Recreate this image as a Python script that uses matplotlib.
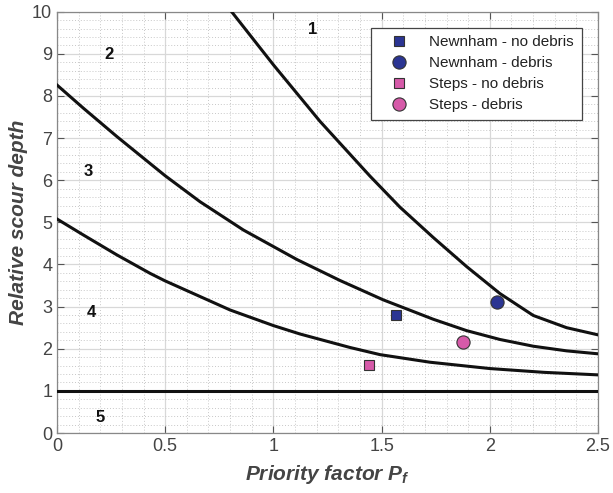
import matplotlib
matplotlib.use("Agg")
import matplotlib.pyplot as plt
from matplotlib.ticker import MultipleLocator, FuncFormatter

plt.rcParams["font.family"] = ["Liberation Sans", "DejaVu Sans"]
plt.rcParams["mathtext.fontset"] = "custom"
plt.rcParams["mathtext.it"] = "Liberation Sans:italic:bold"
plt.rcParams["mathtext.rm"] = "Liberation Sans:bold"

# boundary curves
curve1_x = [0.807, 1.0, 1.215, 1.446, 1.585, 1.739, 1.893, 2.047, 2.201, 2.355, 2.5]
curve1_y = [10.0, 8.74, 7.40, 6.10, 5.36, 4.64, 3.95, 3.31, 2.79, 2.50, 2.33]

curve2_x = [0.0, 0.122, 0.276, 0.499, 0.661, 0.861, 1.108, 1.308, 1.508, 1.739, 1.893, 2.047, 2.201, 2.355, 2.5]
curve2_y = [8.26, 7.71, 7.04, 6.11, 5.49, 4.82, 4.12, 3.62, 3.16, 2.70, 2.43, 2.22, 2.06, 1.95, 1.88]

curve3_x = [0.0, 0.122, 0.276, 0.43, 0.5, 0.8, 1.0, 1.123, 1.354, 1.493, 1.724, 2.0, 2.25, 2.5]
curve3_y = [5.08, 4.70, 4.23, 3.79, 3.61, 2.92, 2.55, 2.35, 2.03, 1.86, 1.68, 1.53, 1.44, 1.38]

limit_x = [0.0, 2.5]
limit_y = [1.0, 1.0]

# observations
series_names = ["Newnham - no debris", "Newnham - debris", "Steps - no debris", "Steps - debris"]
series_x = [1.565, 2.032, 1.442, 1.875]
series_y = [2.80, 3.12, 1.62, 2.15]
series_marker = ["s", "o", "s", "o"]
series_color = ["#2b3593", "#2b3593", "#d65aa9", "#d65aa9"]
series_size = [7, 9.5, 7, 9.5]

zone_labels = ["1", "2", "3", "4", "5"]
zone_x = [1.183, 0.24, 0.143, 0.16, 0.2]
zone_y = [9.57, 8.98, 6.2, 2.85, 0.36]

fig = plt.figure(figsize=(6.13, 4.93), dpi=100)
ax = fig.add_axes([0.093, 0.1217, 0.8825, 0.8545])

for cx, cy in [(curve1_x, curve1_y), (curve2_x, curve2_y), (curve3_x, curve3_y), (limit_x, limit_y)]:
    ax.plot(cx, cy, color="#111111", lw=2.2, solid_joinstyle="round", zorder=3)

for name, x, y, m, c, s in zip(series_names, series_x, series_y, series_marker, series_color, series_size):
    ax.plot([x], [y], linestyle="none", marker=m, markersize=s, markerfacecolor=c,
            markeredgecolor="#333333", markeredgewidth=0.8, label=name, zorder=4)

for t, x, y in zip(zone_labels, zone_x, zone_y):
    ax.text(x, y, t, fontsize=12, fontweight="bold", color="#111111", ha="center", va="center")

ax.set_xlim(0, 2.5)
ax.set_ylim(0, 10)
ax.xaxis.set_major_locator(MultipleLocator(0.5))
ax.xaxis.set_minor_locator(MultipleLocator(0.1))
ax.yaxis.set_major_locator(MultipleLocator(1))
ax.yaxis.set_minor_locator(MultipleLocator(0.2))
ax.xaxis.set_major_formatter(FuncFormatter(lambda v, p: f"{v:g}"))

ax.grid(which="major", color="#d8d8d8", lw=0.9, ls="-")
ax.grid(which="minor", color="#c8c8c8", lw=0.7, ls=(0, (1, 2)))
ax.set_axisbelow(True)

ax.tick_params(which="both", direction="in", top=True, right=True, colors="#555555",
               labelcolor="#444444", labelsize=13)
ax.tick_params(which="major", length=5)
ax.tick_params(which="minor", length=0)
for sp in ax.spines.values():
    sp.set_color("#888888")
    sp.set_linewidth(0.9)

ax.set_xlabel(r"Priority factor $P_f$", fontsize=15, fontweight="bold", style="italic",
              color="#444444", labelpad=6)
ax.set_ylabel("Relative scour depth", fontsize=15, fontweight="bold", style="italic",
              color="#444444", labelpad=3)

leg = ax.legend(loc="upper right", bbox_to_anchor=(0.970, 0.962), borderaxespad=0,
                fontsize=11, frameon=True, fancybox=False, framealpha=1,
                edgecolor="#444444", handlelength=2.6, handletextpad=0.7,
                borderpad=0.5, labelspacing=0.45, labelcolor="#222222")
leg.get_frame().set_linewidth(0.9)

fig.savefig("out.png", dpi=100)
